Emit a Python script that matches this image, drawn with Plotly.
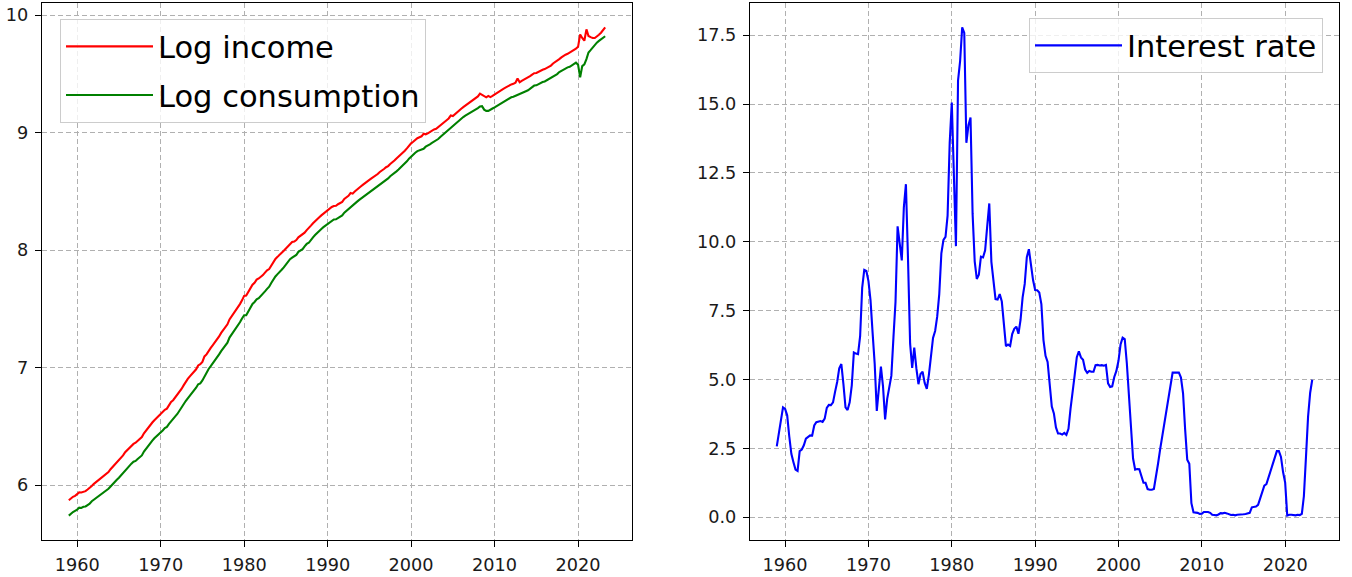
import pandas as pd
import plotly.graph_objects as go

# ---------------- data (quarterly, 1959Q1 - 2023Q2) ----------------
start_date = "1959-01-01"

log_income = [
    5.870, 5.887, 5.900, 5.908,  # 1959
    5.920, 5.938, 5.937, 5.942,  # 1960
    5.948, 5.962, 5.975, 5.992,  # 1961
    6.010, 6.025, 6.037, 6.055,  # 1962
    6.068, 6.080, 6.095, 6.110,  # 1963
    6.135, 6.155, 6.175, 6.190,  # 1964
    6.212, 6.232, 6.252, 6.280,  # 1965
    6.300, 6.315, 6.332, 6.350,  # 1966
    6.360, 6.378, 6.392, 6.408,  # 1967
    6.440, 6.465, 6.492, 6.513,  # 1968
    6.532, 6.552, 6.570, 6.587,  # 1969
    6.600, 6.622, 6.640, 6.650,  # 1970
    6.680, 6.708, 6.722, 6.745,  # 1971
    6.765, 6.795, 6.818, 6.848,  # 1972
    6.880, 6.903, 6.925, 6.945,  # 1973
    6.960, 6.985, 7.018, 7.028,  # 1974
    7.048, 7.095, 7.112, 7.145,  # 1975
    7.167, 7.190, 7.212, 7.240,  # 1976
    7.265, 7.295, 7.320, 7.352,  # 1977
    7.368, 7.410, 7.435, 7.463,  # 1978
    7.487, 7.510, 7.540, 7.572,  # 1979
    7.610, 7.612, 7.645, 7.680,  # 1980
    7.705, 7.722, 7.748, 7.758,  # 1981
    7.770, 7.787, 7.808, 7.828,  # 1982
    7.838, 7.868, 7.898, 7.925,  # 1983
    7.942, 7.963, 7.978, 7.995,  # 1984
    8.015, 8.030, 8.050, 8.068,  # 1985
    8.072, 8.085, 8.108, 8.120,  # 1986
    8.130, 8.148, 8.170, 8.185,  # 1987
    8.208, 8.228, 8.248, 8.268,  # 1988
    8.279, 8.295, 8.310, 8.322,  # 1989
    8.343, 8.353, 8.367, 8.375,  # 1990
    8.377, 8.390, 8.400, 8.410,  # 1991
    8.435, 8.448, 8.462, 8.485,  # 1992
    8.480, 8.498, 8.515, 8.530,  # 1993
    8.543, 8.557, 8.572, 8.590,  # 1994
    8.597, 8.610, 8.620, 8.633,  # 1995
    8.647, 8.665, 8.675, 8.690,  # 1996
    8.705, 8.715, 8.733, 8.745,  # 1997
    8.762, 8.780, 8.795, 8.812,  # 1998
    8.825, 8.845, 8.865, 8.888,  # 1999
    8.908, 8.922, 8.938, 8.952,  # 2000
    8.960, 8.968, 8.990, 8.985,  # 2001
    8.993, 9.005, 9.017, 9.027,  # 2002
    9.032, 9.045, 9.062, 9.078,  # 2003
    9.090, 9.105, 9.120, 9.145,  # 2004
    9.140, 9.157, 9.170, 9.190,  # 2005
    9.203, 9.217, 9.230, 9.242,  # 2006
    9.258, 9.270, 9.280, 9.292,  # 2007
    9.308, 9.332, 9.322, 9.310,  # 2008
    9.300, 9.312, 9.302, 9.312,  # 2009
    9.325, 9.335, 9.345, 9.358,  # 2010
    9.370, 9.380, 9.392, 9.400,  # 2011
    9.410, 9.415, 9.425, 9.460,  # 2012
    9.428, 9.440, 9.450, 9.458,  # 2013
    9.465, 9.480, 9.493, 9.505,  # 2014
    9.507, 9.517, 9.527, 9.535,  # 2015
    9.540, 9.550, 9.560, 9.570,  # 2016
    9.588, 9.598, 9.608, 9.625,  # 2017
    9.640, 9.653, 9.663, 9.670,  # 2018
    9.680, 9.692, 9.705, 9.715,  # 2019
    9.730, 9.835, 9.805, 9.782,  # 2020
    9.878, 9.822, 9.812, 9.805,  # 2021
    9.805, 9.815, 9.832, 9.850,  # 2022
    9.878, 9.895,                # 2023
]

log_consumption = [
    5.740, 5.757, 5.770, 5.780,  # 1959
    5.790, 5.808, 5.805, 5.815,  # 1960
    5.818, 5.830, 5.842, 5.862,  # 1961
    5.875, 5.890, 5.902, 5.920,  # 1962
    5.928, 5.940, 5.955, 5.968,  # 1963
    5.988, 6.010, 6.030, 6.045,  # 1964
    6.062, 6.082, 6.102, 6.130,  # 1965
    6.150, 6.165, 6.182, 6.198,  # 1966
    6.205, 6.222, 6.236, 6.252,  # 1967
    6.285, 6.310, 6.338, 6.360,  # 1968
    6.378, 6.398, 6.413, 6.430,  # 1969
    6.445, 6.465, 6.485, 6.495,  # 1970
    6.520, 6.545, 6.563, 6.585,  # 1971
    6.605, 6.635, 6.658, 6.688,  # 1972
    6.715, 6.738, 6.760, 6.778,  # 1973
    6.800, 6.828, 6.858, 6.865,  # 1974
    6.890, 6.925, 6.955, 6.988,  # 1975
    7.012, 7.035, 7.058, 7.085,  # 1976
    7.112, 7.140, 7.163, 7.195,  # 1977
    7.212, 7.255, 7.280, 7.308,  # 1978
    7.332, 7.355, 7.385, 7.418,  # 1979
    7.445, 7.445, 7.480, 7.515,  # 1980
    7.542, 7.558, 7.580, 7.590,  # 1981
    7.608, 7.625, 7.648, 7.670,  # 1982
    7.688, 7.720, 7.750, 7.775,  # 1983
    7.795, 7.818, 7.832, 7.852,  # 1984
    7.878, 7.895, 7.922, 7.935,  # 1985
    7.945, 7.958, 7.985, 7.998,  # 1986
    8.008, 8.032, 8.052, 8.062,  # 1987
    8.088, 8.108, 8.128, 8.148,  # 1988
    8.162, 8.180, 8.195, 8.208,  # 1989
    8.228, 8.238, 8.252, 8.260,  # 1990
    8.262, 8.275, 8.285, 8.295,  # 1991
    8.318, 8.332, 8.348, 8.368,  # 1992
    8.378, 8.392, 8.410, 8.425,  # 1993
    8.438, 8.452, 8.466, 8.482,  # 1994
    8.490, 8.505, 8.515, 8.528,  # 1995
    8.542, 8.560, 8.570, 8.585,  # 1996
    8.600, 8.610, 8.628, 8.640,  # 1997
    8.652, 8.670, 8.685, 8.702,  # 1998
    8.715, 8.735, 8.755, 8.778,  # 1999
    8.798, 8.812, 8.828, 8.842,  # 2000
    8.850, 8.858, 8.862, 8.880,  # 2001
    8.888, 8.900, 8.912, 8.922,  # 2002
    8.932, 8.945, 8.962, 8.978,  # 2003
    8.995, 9.010, 9.025, 9.042,  # 2004
    9.055, 9.072, 9.090, 9.105,  # 2005
    9.118, 9.132, 9.145, 9.155,  # 2006
    9.168, 9.180, 9.190, 9.202,  # 2007
    9.208, 9.222, 9.225, 9.195,  # 2008
    9.185, 9.185, 9.198, 9.205,  # 2009
    9.215, 9.225, 9.235, 9.248,  # 2010
    9.260, 9.272, 9.282, 9.290,  # 2011
    9.300, 9.305, 9.312, 9.322,  # 2012
    9.325, 9.332, 9.342, 9.352,  # 2013
    9.360, 9.375, 9.388, 9.400,  # 2014
    9.402, 9.412, 9.422, 9.430,  # 2015
    9.435, 9.445, 9.455, 9.465,  # 2016
    9.478, 9.488, 9.498, 9.515,  # 2017
    9.525, 9.538, 9.548, 9.555,  # 2018
    9.560, 9.572, 9.585, 9.595,  # 2019
    9.578, 9.470, 9.565, 9.580,  # 2020
    9.625, 9.682, 9.702, 9.725,  # 2021
    9.748, 9.765, 9.780, 9.792,  # 2022
    9.810, 9.820,                # 2023
]

interest_rate = [
    2.57, 3.08, 3.58, 3.99,  # 1959
    3.93, 3.70, 2.94, 2.30,  # 1960
    2.00, 1.73, 1.68, 2.40,  # 1961
    2.46, 2.61, 2.85, 2.92,  # 1962
    2.97, 2.96, 3.33, 3.45,  # 1963
    3.46, 3.49, 3.46, 3.58,  # 1964
    3.97, 4.08, 4.07, 4.17,  # 1965
    4.56, 4.91, 5.41, 5.56,  # 1966
    4.82, 3.99, 3.89, 4.17,  # 1967
    4.79, 5.98, 5.94, 5.92,  # 1968
    6.57, 8.33, 8.98, 8.94,  # 1969
    8.57, 7.88, 6.70, 5.57,  # 1970
    3.86, 4.56, 5.47, 4.75,  # 1971
    3.55, 4.30, 4.74, 5.14,  # 1972
    6.54, 7.82, 10.56, 10.00,  # 1973
    9.32, 11.25, 12.09, 9.35,  # 1974
    6.30, 5.42, 6.16, 5.41,  # 1975
    4.83, 5.20, 5.28, 4.87,  # 1976
    4.66, 5.16, 5.82, 6.51,  # 1977
    6.76, 7.28, 8.10, 9.58,  # 1978
    10.07, 10.18, 10.95, 13.58,  # 1979
    15.05, 12.69, 9.84, 15.85,  # 1980
    16.57, 17.78, 17.58, 13.59,  # 1981
    14.23, 14.51, 11.01, 9.29,  # 1982
    8.65, 8.80, 9.46, 9.43,  # 1983
    9.69, 10.56, 11.39, 9.27,  # 1984
    8.48, 7.92, 7.90, 8.10,  # 1985
    7.83, 6.92, 6.21, 6.27,  # 1986
    6.22, 6.65, 6.84, 6.92,  # 1987
    6.66, 7.16, 7.98, 8.47,  # 1988
    9.44, 9.73, 9.08, 8.61,  # 1989
    8.25, 8.24, 8.16, 7.74,  # 1990
    6.43, 5.86, 5.64, 4.82,  # 1991
    4.02, 3.77, 3.26, 3.04,  # 1992
    3.04, 3.00, 3.06, 2.99,  # 1993
    3.21, 3.94, 4.49, 5.17,  # 1994
    5.81, 6.02, 5.80, 5.72,  # 1995
    5.36, 5.24, 5.31, 5.28,  # 1996
    5.28, 5.52, 5.53, 5.51,  # 1997
    5.52, 5.50, 5.53, 4.86,  # 1998
    4.73, 4.75, 5.09, 5.31,  # 1999
    5.68, 6.27, 6.52, 6.47,  # 2000
    5.59, 4.33, 3.50, 2.13,  # 2001
    1.73, 1.75, 1.74, 1.44,  # 2002
    1.25, 1.25, 1.02, 1.00,  # 2003
    1.00, 1.03, 1.43, 1.95,  # 2004
    2.47, 2.94, 3.46, 3.98,  # 2005
    4.46, 4.91, 5.25, 5.25,  # 2006
    5.26, 5.25, 5.07, 4.50,  # 2007
    3.18, 2.09, 1.94, 0.51,  # 2008
    0.18, 0.18, 0.16, 0.12,  # 2009
    0.13, 0.19, 0.19, 0.19,  # 2010
    0.16, 0.09, 0.08, 0.07,  # 2011
    0.10, 0.15, 0.14, 0.16,  # 2012
    0.14, 0.12, 0.08, 0.09,  # 2013
    0.07, 0.09, 0.09, 0.10,  # 2014
    0.11, 0.12, 0.13, 0.16,  # 2015
    0.36, 0.37, 0.39, 0.45,  # 2016
    0.70, 0.95, 1.15, 1.20,  # 2017
    1.45, 1.74, 1.92, 2.22,  # 2018
    2.40, 2.40, 2.19, 1.64,  # 2019
    1.26, 0.06, 0.09, 0.09,  # 2020
    0.08, 0.07, 0.09, 0.08,  # 2021
    0.12, 0.77, 2.19, 3.65,  # 2022
    4.52, 4.99,              # 2023
]

series_names = ["Log income", "Log consumption", "Interest rate"]
x_tick_labels = ["1960", "1970", "1980", "1990", "2000", "2010", "2020"]

dates = pd.date_range(start_date, periods=len(interest_rate), freq="QS")

# ---------------- figure ----------------
W, H = 1352, 577
FONT = "DejaVu Sans"
TICK_SIZE = 17.7
LEG_SIZE = 30.5


def padded(lo, hi, frac=0.05):
    p = (hi - lo) * frac
    return [lo - p, hi + p]


# x range like matplotlib's 5% margins on date data
span = dates[-1] - dates[0]
x_range = [dates[0] - span * 0.05, dates[-1] + span * 0.05]

y1_range = padded(min(min(log_income), min(log_consumption)),
                  max(max(log_income), max(log_consumption)))
y2_range = padded(min(interest_rate), max(interest_rate))

fig = go.Figure()
fig.add_trace(go.Scatter(x=dates, y=log_income, mode="lines", name=series_names[0],
                         line=dict(color="red", width=2.1), xaxis="x", yaxis="y",
                         legend="legend", legendgroup="a"))
fig.add_trace(go.Scatter(x=dates, y=log_consumption, mode="lines", name=series_names[1],
                         line=dict(color="green", width=2.1), xaxis="x", yaxis="y",
                         legend="legend", legendgroup="b"))
fig.add_trace(go.Scatter(x=dates, y=interest_rate, mode="lines", name=series_names[2],
                         line=dict(color="blue", width=2.1), xaxis="x2", yaxis="y2",
                         legend="legend2", legendgroup="c"))

tickvals = [pd.Timestamp(f"{t}-01-01") for t in x_tick_labels]

common_axis = dict(
    showline=True, linecolor="black", linewidth=1.3, mirror=True,
    ticks="outside", ticklen=6, tickwidth=1.3, tickcolor="black",
    showgrid=True, gridcolor="#b0b0b0", gridwidth=1, griddash="5px,3px",
    zeroline=False, automargin=False, ticklabelstandoff=3,
    tickfont=dict(family=FONT, size=TICK_SIZE, color="#1a1a1a"),
)

dom_y = [1 - 540 / H, 1 - 3 / H]

fig.update_layout(
    template="none",
    width=W, height=H, autosize=False,
    margin=dict(l=0, r=0, t=0, b=0),
    paper_bgcolor="white", plot_bgcolor="white",
    font=dict(family=FONT, color="black"),
    xaxis=dict(common_axis, domain=[42 / W, 632 / W], anchor="y", type="date",
               range=x_range, tickvals=tickvals, ticktext=x_tick_labels),
    yaxis=dict(common_axis, domain=dom_y, anchor="x", range=y1_range,
               tick0=0, dtick=1, tickformat="d"),
    xaxis2=dict(common_axis, domain=[750 / W, 1339 / W], anchor="y2", type="date",
                range=x_range, tickvals=tickvals, ticktext=x_tick_labels),
    yaxis2=dict(common_axis, domain=dom_y, anchor="x2", range=y2_range,
                tick0=0, dtick=2.5, tickformat=".1f"),
    legend=dict(x=60 / W, y=1 - 19 / H, xanchor="left", yanchor="top",
                font=dict(family=FONT, size=LEG_SIZE, color="black"),
                bgcolor="rgba(255,255,255,0.8)", bordercolor="#cccccc", borderwidth=1,
                itemwidth=87, tracegroupgap=6, traceorder="grouped"),
    legend2=dict(x=1323 / W, y=1 - 18 / H, xanchor="right", yanchor="top",
                 font=dict(family=FONT, size=LEG_SIZE, color="black"),
                 bgcolor="rgba(255,255,255,0.8)", bordercolor="#cccccc", borderwidth=1,
                 itemwidth=87),
    showlegend=True,
)

fig.write_html(
    "out.html",
    config={"displayModeBar": False},
    post_script=(
        "document.documentElement.style.margin='0';"
        "document.documentElement.style.overflow='hidden';"
        "document.body.style.margin='0';document.body.style.padding='0';"
        "document.body.style.overflow='hidden';"
    ),
)
